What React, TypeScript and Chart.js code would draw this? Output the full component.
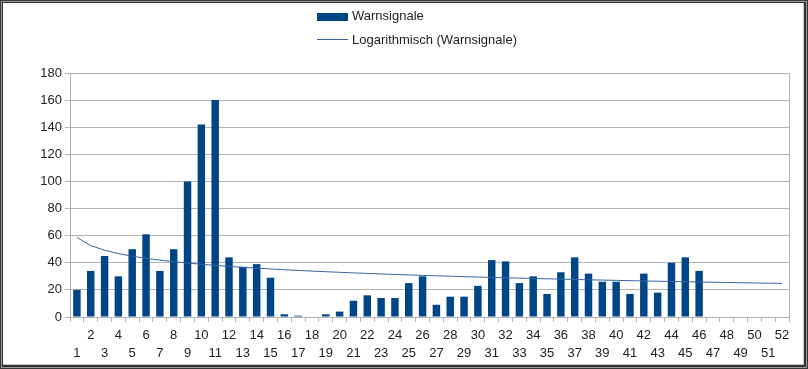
import React, { useEffect, useRef } from "react";
import { Chart, registerables } from "chart.js";

Chart.register(...registerables);

const weeks = [
  "1", "2", "3", "4", "5", "6", "7", "8", "9", "10", "11", "12", "13",
  "14", "15", "16", "17", "18", "19", "20", "21", "22", "23", "24", "25", "26",
  "27", "28", "29", "30", "31", "32", "33", "34", "35", "36", "37", "38", "39",
  "40", "41", "42", "43", "44", "45", "46", "47", "48", "49", "50", "51", "52",
];

const warnsignale: (number | null)[] = [
  20, 34, 45, 30, 50, 61, 34, 50, 100, 142, 160, 44, 37, 39, 29, 2, 1, 0, 2, 4,
  12, 16, 14, 14, 25, 30, 9, 15, 15, 23, 42, 41, 25, 30, 17, 33, 44, 32, 26, 26,
  17, 32, 18, 40, 44, 34, null, null, null, null, null, null,
];

const seriesLabel = "Warnsignale";
const trendLabel = "Logarithmisch (Warnsignale)";
const yTicks = { min: 0, max: 180, step: 20 };

const FONT = '"Liberation Sans", Arial, sans-serif';
const BAR_COLOR = "#004586";
const TREND_COLOR = "#3767a3";
const GRID_COLOR = "#b3b3b3";

// least-squares fit y = a + b*ln(x) over the available points (LibreOffice logarithmic trend line)
function logTrend(values: (number | null)[]): number[] {
  const pts: [number, number][] = [];
  values.forEach((v, i) => {
    if (v !== null) pts.push([Math.log(i + 1), v]);
  });
  const n = pts.length;
  const mx = pts.reduce((s, p) => s + p[0], 0) / n;
  const my = pts.reduce((s, p) => s + p[1], 0) / n;
  let sxy = 0;
  let sxx = 0;
  pts.forEach(([x, y]) => {
    sxy += (x - mx) * (y - my);
    sxx += (x - mx) * (x - mx);
  });
  const b = sxy / sxx;
  const a = my - b * mx;
  return values.map((_, i) => a + b * Math.log(i + 1));
}

const plotFrame = {
  id: "plotFrame",
  beforeDatasetsDraw(chart: any) {
    const { ctx, chartArea } = chart;
    ctx.save();
    ctx.strokeStyle = GRID_COLOR;
    ctx.lineWidth = 1;
    ctx.beginPath();
    const x = Math.round(chartArea.right) + 0.5;
    ctx.moveTo(x, chartArea.top);
    ctx.lineTo(x, chartArea.bottom);
    ctx.stroke();
    ctx.restore();
  },
};

export default function App() {
  const canvasRef = useRef<HTMLCanvasElement | null>(null);

  useEffect(() => {
    if (!canvasRef.current) return;
    const chart = new Chart(canvasRef.current, {
      type: "bar",
      data: {
        labels: weeks,
        datasets: [
          {
            type: "line" as const,
            label: trendLabel,
            data: logTrend(warnsignale),
            borderColor: TREND_COLOR,
            borderWidth: 1,
            pointRadius: 0,
            tension: 0,
            fill: false,
            order: 1,
          } as any,
          {
            type: "bar" as const,
            label: seriesLabel,
            data: warnsignale,
            backgroundColor: BAR_COLOR,
            barPercentage: 0.54,
            categoryPercentage: 1,
            order: 2,
          },
        ],
      },
      options: {
        responsive: false,
        animation: false,
        layout: { padding: { left: 0, right: 19, top: 73, bottom: 0 } },
        plugins: {
          legend: { display: false },
          tooltip: { enabled: false },
        },
        scales: {
          x: {
            offset: true,
            grid: {
              offset: true,
              drawOnChartArea: false,
              drawTicks: true,
              tickLength: 5,
              color: GRID_COLOR,
            },
            border: { color: GRID_COLOR },
            ticks: {
              autoSkip: false,
              maxRotation: 0,
              minRotation: 0,
              padding: 4,
              color: "#222",
              font: { family: FONT, size: 13, lineHeight: 18 / 13 },
              callback: (_v: any, i: number) =>
                i % 2 === 0 ? ["", weeks[i]] : [weeks[i], ""],
            },
            afterFit: (s: any) => {
              s.height = 52;
            },
          },
          y: {
            min: yTicks.min,
            max: yTicks.max,
            grid: { color: GRID_COLOR, tickLength: 5 },
            border: { color: GRID_COLOR },
            ticks: {
              stepSize: yTicks.step,
              padding: 3,
              color: "#222",
              font: { family: FONT, size: 13 },
            },
            afterFit: (s: any) => {
              s.width = 70;
            },
          },
        },
      },
      plugins: [plotFrame],
    });
    return () => chart.destroy();
  }, []);

  const textStyle: React.CSSProperties = {
    position: "absolute",
    left: 352,
    font: `13px ${FONT}`,
    lineHeight: "16px",
    color: "#222",
    whiteSpace: "nowrap",
  };

  return (
    <div style={{ position: "fixed", left: 0, top: 0, width: 808, height: 369, background: "#fff" }}>
      <canvas ref={canvasRef} width={808} height={369} style={{ position: "absolute", left: 0, top: 0 }} />
      <div style={{ position: "absolute", left: 317, top: 13, width: 31, height: 8, background: BAR_COLOR }} />
      <div style={{ ...textStyle, top: 8 }}>{seriesLabel}</div>
      <div style={{ position: "absolute", left: 317, top: 39, width: 31, height: 1, background: TREND_COLOR }} />
      <div style={{ ...textStyle, top: 32 }}>{trendLabel}</div>
      <div
        style={{
          position: "absolute",
          left: 0,
          top: 0,
          width: 808,
          height: 369,
          boxSizing: "border-box",
          border: "1px solid #3a3a3a",
          boxShadow:
            "inset 0 0 0 1px #9a9a9a, inset 0 0 0 2px #333, inset -3px -3px 0 0 #333, inset -4px -4px 0 0 #c8c8c8",
          pointerEvents: "none",
        }}
      />
    </div>
  );
}
